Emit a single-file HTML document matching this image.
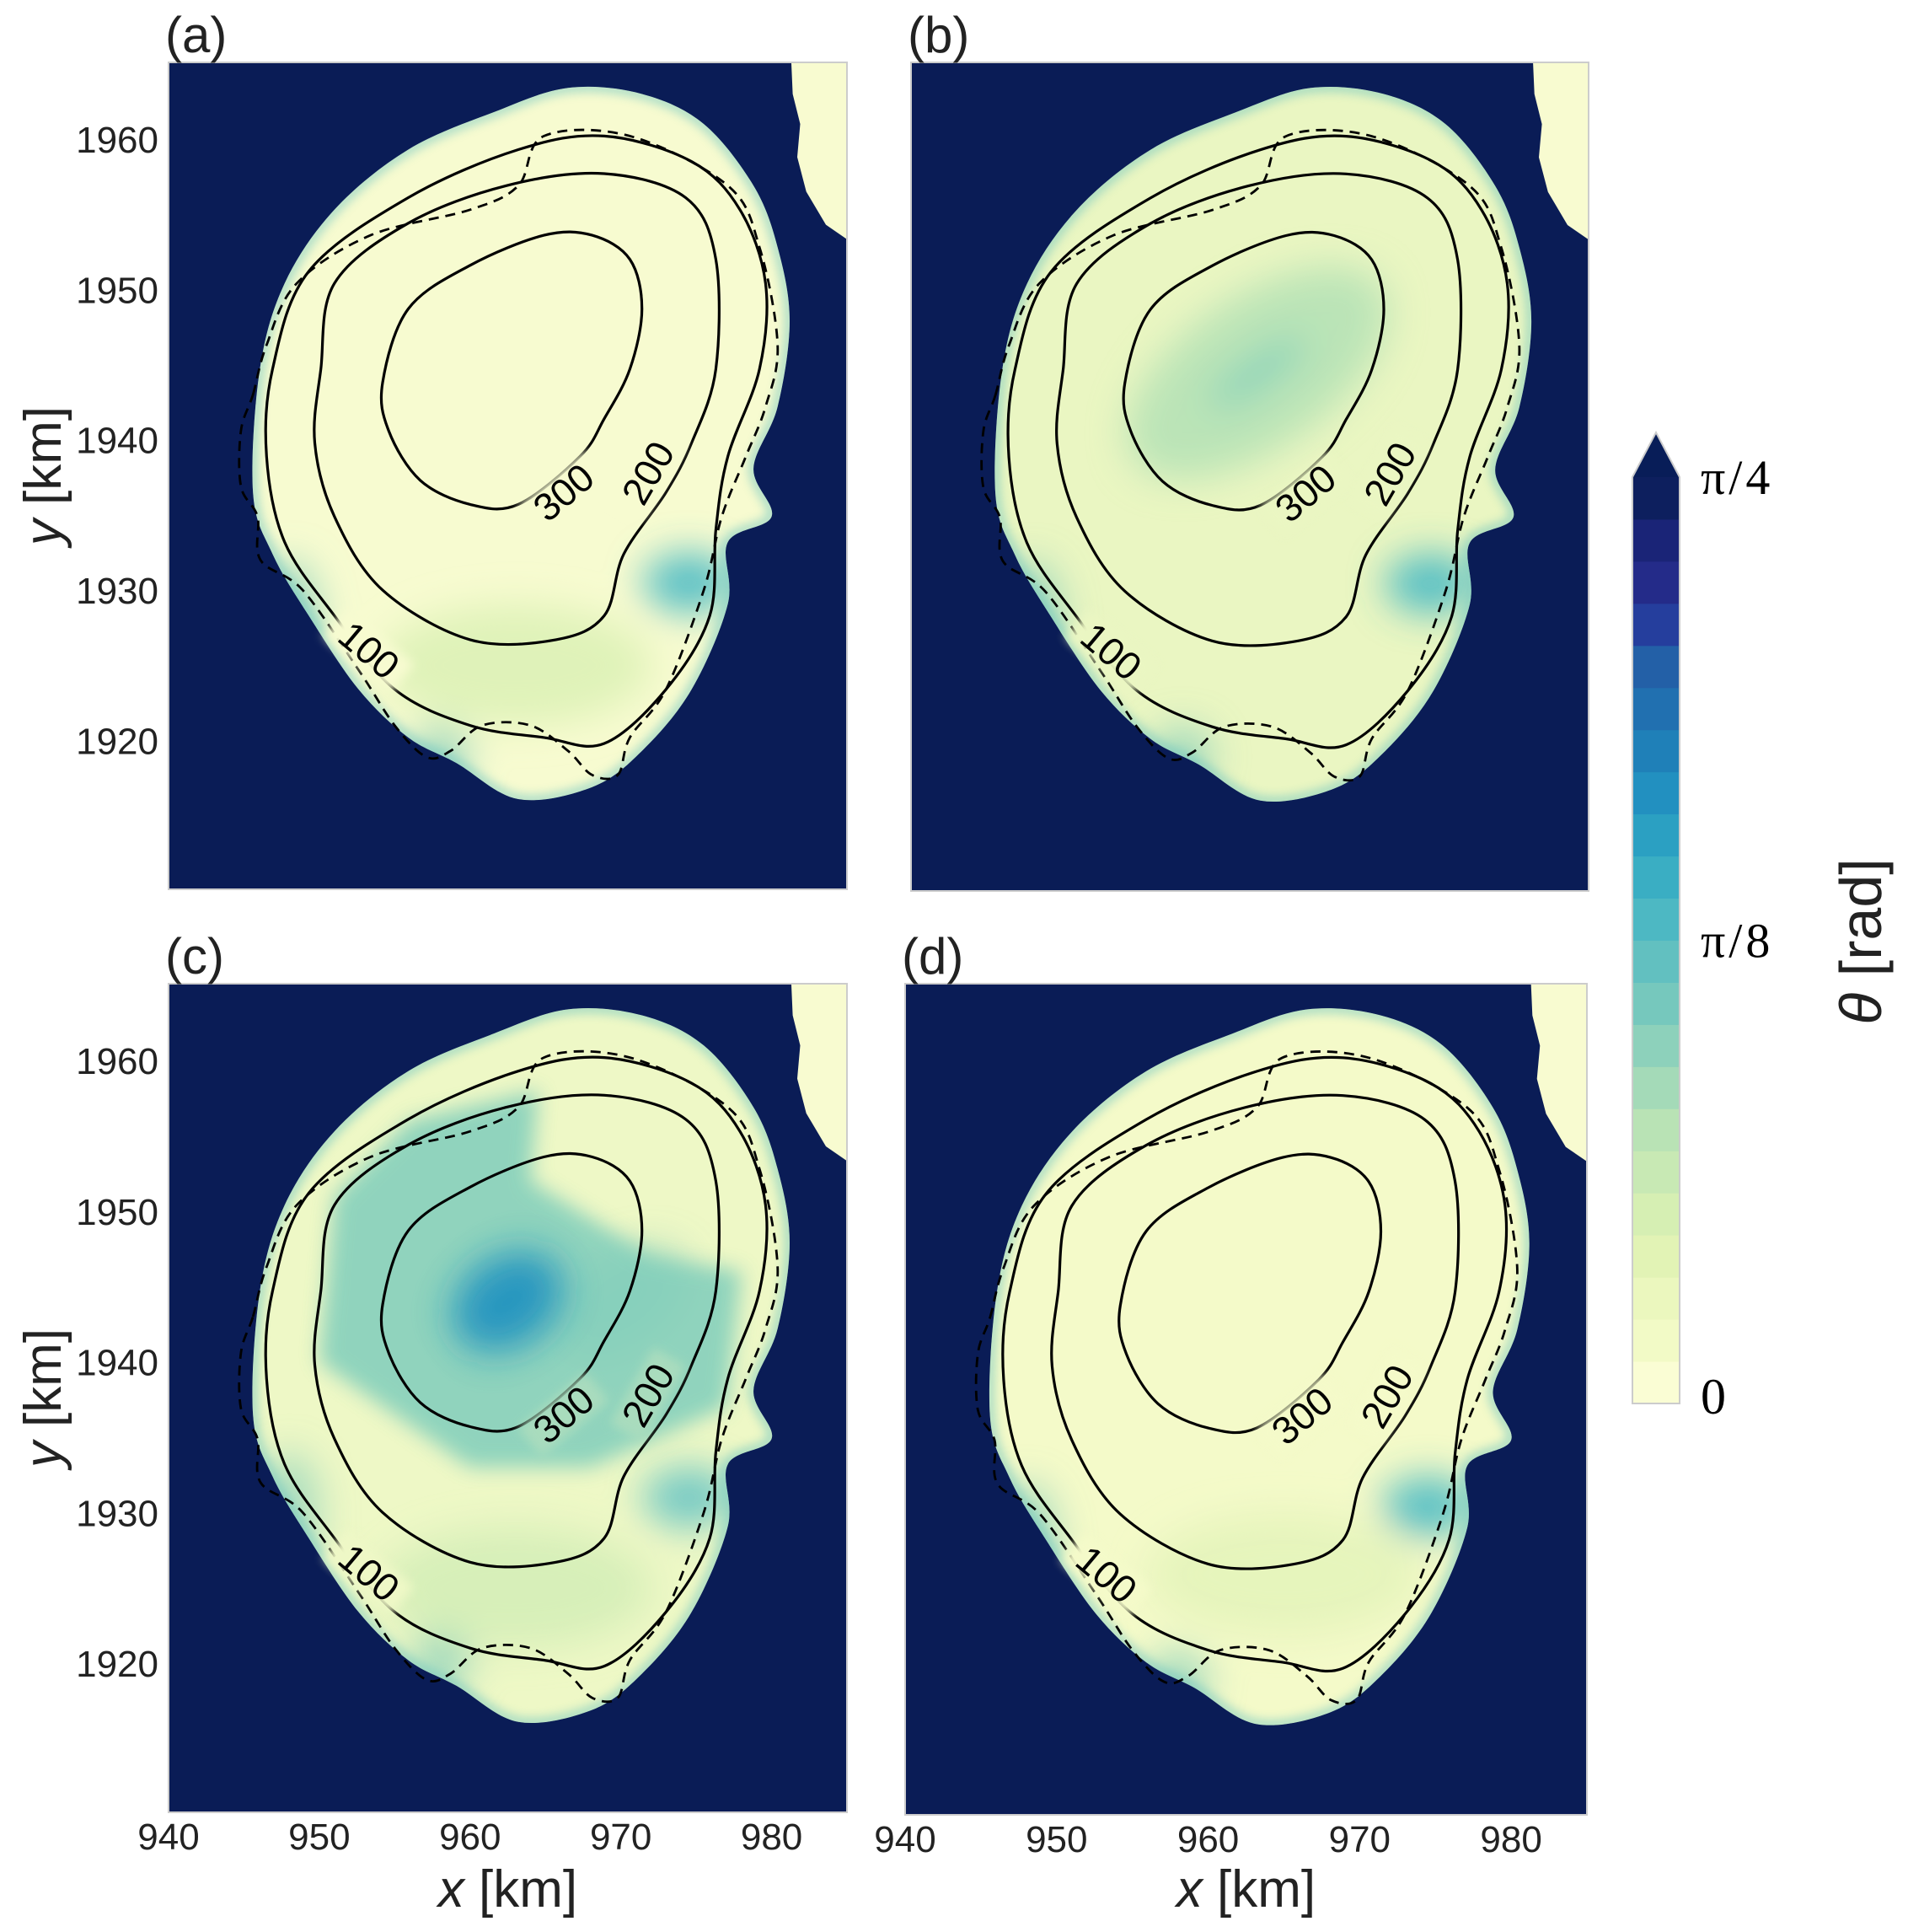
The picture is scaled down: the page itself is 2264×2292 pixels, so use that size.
<!DOCTYPE html>
<html><head><meta charset="utf-8">
<style>
html,body{margin:0;padding:0;background:#fff;}
svg{display:block;font-family:"Liberation Sans",Arial,sans-serif;}
</style></head>
<body>
<svg id="fig" width="2264" height="2292" viewBox="0 0 2264 2292" xmlns="http://www.w3.org/2000/svg">
<defs>
<filter id="blur" x="-50%" y="-50%" width="200%" height="200%"><feGaussianBlur stdDeviation="22"/></filter>
<filter id="blurS" x="-50%" y="-50%" width="200%" height="200%"><feGaussianBlur stdDeviation="6"/></filter>
<filter id="blurW" x="-50%" y="-50%" width="200%" height="200%"><feGaussianBlur stdDeviation="12"/></filter>
</defs>
</svg>
<script>
const NS='http://www.w3.org/2000/svg';
const svg=document.getElementById('fig');
// axis domain
const xDomain=[940,985];
const yDomain=[1910.1,1965.1];
const xTicks=[940,950,960,970,980];
const yTicks=[1920,1930,1940,1950,1960];
// ice outline (km)
const outlineX=[946.05,947.7,951.0,955.9,961.6,966.5,971.4,975.5,978.8,980.4,981.2,980.4,978.8,980.0,977.1,977.1,974.7,971.4,968.1,963.2,959.1,955.9,952.6,949.3,946.9,945.6];
const outlineY=[1944.65,1950.4,1955.3,1959.3,1961.8,1963.4,1963.0,1961.0,1956.9,1952.8,1947.9,1942.2,1938.1,1934.9,1933.2,1929.1,1923.4,1919.3,1916.9,1916.1,1918.5,1920.2,1923.4,1928.3,1932.4,1936.5];
const patchX=[981.3,985.2,985.2,983.6,982.3,981.7,981.9,981.4];
const patchY=[1965.3,1965.3,1953.2,1954.3,1956.5,1958.8,1961.0,1963.0];
// contour levels
const c100X=[946.9,949.3,955.9,963.2,968.9,974.7,977.9,979.6,979.2,977.1,976.3,975.9,973.0,968.9,964.9,960.0,955.0,951.0,947.7,946.5];
const c100Y=[1944.7,1951.2,1956.1,1959.3,1960.2,1958.5,1955.3,1950.4,1944.7,1938.9,1934.0,1928.3,1923.4,1919.8,1920.2,1921.0,1923.4,1928.3,1933.2,1938.9];
const c200X=[950.1,951.0,955.9,962.4,968.9,974.3,976.3,976.3,974.7,973.0,970.2,968.9,965.7,960.0,954.2,951.0,949.7];
const c200Y=[1944.7,1950.4,1954.4,1956.9,1957.7,1956.1,1952.0,1944.7,1939.8,1936.5,1932.4,1928.3,1926.7,1926.7,1930.0,1934.9,1939.8];
const c300X=[954.2,955.9,960.0,964.9,968.1,970.6,971.4,970.6,968.9,967.3,963.2,960.0,956.7,954.6];
const c300Y=[1943.8,1948.7,1951.6,1953.6,1953.6,1952.0,1948.7,1944.7,1941.4,1938.9,1935.7,1935.7,1937.3,1940.6];
const dashX=[945.6,946.5,948.5,953.4,960.0,963.2,964.9,970.6,977.1,979.2,980.4,979.6,978.3,976.7,975.5,973.0,970.6,969.8,968.1,966.5,964.0,960.8,958.7,957.1,955.0,952.6,948.9,946.1,945.9,944.8,944.8];
const dashY=[1943.0,1946.3,1950.4,1953.6,1955.3,1956.9,1960.2,1960.2,1956.9,1952.8,1946.3,1942.2,1938.9,1934.9,1930.0,1923.4,1920.2,1917.7,1917.7,1919.3,1921.0,1921.0,1919.3,1918.9,1921.0,1924.7,1930.0,1932.0,1934.9,1936.9,1940.6];
const contourLabels=['100','200','300'];
const labelX=[953.3,971.8,966.2];
const labelY=[1926.0,1937.8,1936.5];
const labelRot=[40,-60,-40];
const panelNames=['(a)','(b)','(c)','(d)'];
const baseColor=['#f7fbd0','#eaf6c2','#eef8c6','#f4fac9'];
// blobs: panel index, cx, cy, rx, ry (km), color, opacity
const blobPanel=[0,0,0,0, 1,1,1,1,1, 2,2,2,2,2,2, 3,3,3,3];
const blobX=[974.5,963,948,958, 974.5,963,963,948,958, 974.5,963,962.5,958,970,948, 974.5,965,948,958];
const blobY=[1930.5,1925,1928,1919, 1930.5,1944.5,1944.5,1928,1919, 1931,1925,1944,1920,1944,1930, 1930.5,1926,1928,1919];
const blobRX=[3,9,2,2, 3,10,4,2,2, 3,9,4,2,5,2, 3,9,2,2];
const blobRY=[2,4,4,2, 2,5,1.2,4,2, 2,4,3,2,3,4, 2,4,4,2];
const blobColor=['#41b6c4','#d9f0b3','#7fcdbb','#7fcdbb', '#41b6c4','#b6e2b6','#7fcdbb','#7fcdbb','#7fcdbb', '#41b6c4','#cdebb4','#1d91c0','#7fcdbb','#7fcdbb','#7fcdbb', '#41b6c4','#dff2b6','#7fcdbb','#7fcdbb'];
const blobOp=[0.85,0.8,0.7,0.7, 0.85,0.9,0.7,0.7,0.7, 0.7,0.7,0.9,0.7,0.5,0.6, 0.85,0.7,0.7,0.7];
// panel (c) wedge region (km)
const wedgeX=[951,956,964.5,964,972,978,977,968,960,950];
const wedgeY=[1951,1956,1958,1952,1947,1946,1937,1933,1933,1940];
const cbTicks=['0','π/8','π/4'];
const cbValues=[0,0.5,1];
const cbColors=['#fafdd4','#f2fac6','#ebf7be','#e2f3b5','#d6efb3','#c8e9b4','#b9e3b5','#a4dab8','#8dd1bb','#76c8bd','#62c0c0','#4db8c3','#3aaec3','#2ba0c2','#2290c0','#1f80b8','#2170b0','#2360a7','#253e9d','#242b89','#1a2477','#0d1f5e'];

const panels=[
 {x0:200,y0:74,x1:1005,y1:1055,yl:true,xl:false},
 {x0:1081,y0:74,x1:1885,y1:1057,yl:false,xl:false},
 {x0:200,y0:1167,x1:1005,y1:2150,yl:true,xl:true},
 {x0:1074,y0:1167,x1:1883,y1:2153,yl:false,xl:true}];

function el(tag,attrs,parent){const e=document.createElementNS(NS,tag);for(const k in attrs)e.setAttribute(k,attrs[k]);(parent||svg).appendChild(e);return e;}
function smooth(pts,closed){
 const n=pts.length;let d='M'+pts[0][0].toFixed(1)+','+pts[0][1].toFixed(1);
 const get=i=>closed?pts[(i+n)%n]:pts[Math.max(0,Math.min(n-1,i))];
 const segs=closed?n:n-1;
 for(let i=0;i<segs;i++){const p0=get(i-1),p1=get(i),p2=get(i+1),p3=get(i+2);
  const c1=[p1[0]+(p2[0]-p0[0])/6,p1[1]+(p2[1]-p0[1])/6],c2=[p2[0]-(p3[0]-p1[0])/6,p2[1]-(p3[1]-p1[1])/6];
  d+='C'+c1[0].toFixed(1)+','+c1[1].toFixed(1)+' '+c2[0].toFixed(1)+','+c2[1].toFixed(1)+' '+p2[0].toFixed(1)+','+p2[1].toFixed(1);}
 return d+(closed?'Z':'');
}
function poly(pts){return 'M'+pts.map(p=>p[0].toFixed(1)+','+p[1].toFixed(1)).join('L')+'Z';}

panels.forEach((P,pi)=>{
 const sx=v=>P.x0+(v-xDomain[0])/(xDomain[1]-xDomain[0])*(P.x1-P.x0);
 const sy=v=>P.y1-(v-yDomain[0])/(yDomain[1]-yDomain[0])*(P.y1-P.y0);
 const sk=(P.x1-P.x0)/(xDomain[1]-xDomain[0]);
 const g=el('g',{});
 
 
 const cp=el('clipPath',{id:'clip'+pi},g);
 const ol=outlineX.map((x,i)=>[sx(x),sy(outlineY[i])]);
 el('path',{d:smooth(ol,true)},cp);
 const fc=el('clipPath',{id:'frame'+pi},g);
 el('rect',{x:P.x0,y:P.y0,width:P.x1-P.x0,height:P.y1-P.y0},fc);
 const bg=el('rect',{x:P.x0,y:P.y0,width:P.x1-P.x0,height:P.y1-P.y0,fill:'#0a1c56'},g);
 
 
 const ice=el('g',{'clip-path':'url(#clip'+pi+')'},g);
 
 
 el('rect',{x:P.x0,y:P.y0,width:P.x1-P.x0,height:P.y1-P.y0,fill:baseColor[pi]},ice);
 const bl=el('g',{filter:'url(#blur)'},ice);
 if(pi===2){
  const w=wedgeX.map((x,i)=>[sx(x),sy(wedgeY[i])]);
  const wp=el('path',{d:poly(w),fill:'#7fcdbb',opacity:0.85,filter:'url(#blurW)'},ice);
  
  
 }
 blobX.forEach((bx,i)=>{if(blobPanel[i]!==pi)return;
  const e=el('ellipse',{cx:sx(bx),cy:sy(blobY[i]),rx:blobRX[i]*sk,ry:blobRY[i]*sk,fill:blobColor[i],opacity:blobOp[i],transform:(pi===1||pi===2)&&blobRX[i]>=4&&Math.abs(blobY[i]-1944)<1?'rotate(-35 '+sx(bx)+' '+sy(blobY[i])+')':''},pi===2&&i===11?ice:bl);
  if(pi===2&&i===11)e.setAttribute('filter','url(#blur)');
  
  
 });
 const edge=el('path',{d:smooth(ol,true),fill:'none',stroke:'#5fbfc0',"stroke-width":10,opacity:0.6,filter:'url(#blurS)'},ice);
 
 
 const pt=patchX.map((x,i)=>[sx(x),sy(patchY[i])]);
 const pg=el('g',{'clip-path':'url(#frame'+pi+')'},g);
 const pp=el('path',{d:poly(pt),fill:'#f8fbd0'},pg);
 
 
 [[c100X,c100Y,'contour-100'],[c200X,c200Y,'contour-200'],[c300X,c300Y,'contour-300']].forEach(c=>{
  const pts=c[0].map((x,i)=>[sx(x),sy(c[1][i])]);
  const p=el('path',{d:smooth(pts,true),fill:'none',stroke:'#000','stroke-width':3.2},g);
  
  
 });
 const dp=el('path',{d:smooth(dashX.map((x,i)=>[sx(x),sy(dashY[i])]),true),fill:'none',stroke:'#000','stroke-width':2.8,'stroke-dasharray':'12,8'},g);
 
 
 contourLabels.forEach((t,i)=>{
  const cx=sx(labelX[i]),cy=sy(labelY[i]);
  const bgc=el('rect',{x:cx-52,y:cy-22,width:104,height:44,fill:pi===2&&i>0?'#a9dcbd':baseColor[pi],transform:'rotate('+labelRot[i]+' '+cx+' '+cy+')',filter:'url(#blurS)'},g);
  
  
  const tx=el('text',{x:cx,y:cy+16,'text-anchor':'middle','font-size':46,fill:'#000',transform:'rotate('+labelRot[i]+' '+cx+' '+cy+')'},g);
  tx.textContent=t;
  
  
 });
 const fr=el('rect',{x:P.x0,y:P.y0,width:P.x1-P.x0,height:P.y1-P.y0,fill:'none',stroke:'#cccccc','stroke-width':2},g);
 
 
 const pl=el('text',{x:P.x0-4,y:P.y0-12,'font-size':60,fill:'#222'},g);
 pl.textContent=panelNames[pi];
 
 
 if(P.yl){
  yTicks.forEach(t=>{const tx=el('text',{x:P.x0-12,y:sy(t)+16,'text-anchor':'end','font-size':44,fill:'#222'},g);tx.textContent=t;
   
   });
  const yc=(P.y0+P.y1)/2;
  const yt=el('text',{x:72,y:yc,'text-anchor':'middle','font-size':62,fill:'#222',transform:'rotate(-90 72 '+yc+')'},g);
  yt.innerHTML='<tspan font-style="italic">y</tspan> [km]';
  
  
 }
 if(P.xl){
  xTicks.forEach(t=>{const tx=el('text',{x:sx(t),y:P.y1+44,'text-anchor':'middle','font-size':44,fill:'#222'},g);tx.textContent=t;
   
   });
  const xc=(P.x0+P.x1)/2;
  const xt=el('text',{x:xc,y:2262,'text-anchor':'middle','font-size':62,fill:'#222'},g);
  xt.innerHTML='<tspan font-style="italic">x</tspan> [km]';
  
  
 }
});

// colorbar
const cb={x0:1937,x1:1993,y0:566,y1:1665,tip:513};
const cbg=el('g',{});


const nC=cbColors.length,h=(cb.y1-cb.y0)/nC;
cbColors.forEach((c,i)=>{const r=el('rect',{x:cb.x0,y:cb.y1-(i+1)*h-0.5,width:cb.x1-cb.x0,height:h+1,fill:c},cbg);
 
 });
const tri=el('path',{d:`M${cb.x0},${cb.y0}L${(cb.x0+cb.x1)/2},${cb.tip}L${cb.x1},${cb.y0}Z`,fill:'#081d58'},cbg);


el('path',{d:`M${cb.x0},${cb.y1}L${cb.x0},${cb.y0}L${(cb.x0+cb.x1)/2},${cb.tip}L${cb.x1},${cb.y0}L${cb.x1},${cb.y1}Z`,fill:'none',stroke:'#cccccc','stroke-width':2},cbg);
cbTicks.forEach((t,i)=>{const y=cb.y1-cbValues[i]*(cb.y1-cb.y0);
 const tx=el('text',{x:2018,y:y+(i===0?12:20),'font-size':i===0?60:58,fill:'#000','font-family':'"Liberation Serif",serif','letter-spacing':'4'},cbg);
 tx.textContent=t;
 
 });
const ct=el('text',{x:2232,y:1117,'text-anchor':'middle','font-size':70,fill:'#222',transform:'rotate(-90 2232 1117)'},cbg);
ct.innerHTML='<tspan font-style="italic">θ</tspan> [rad]';


</script>
</body></html>
